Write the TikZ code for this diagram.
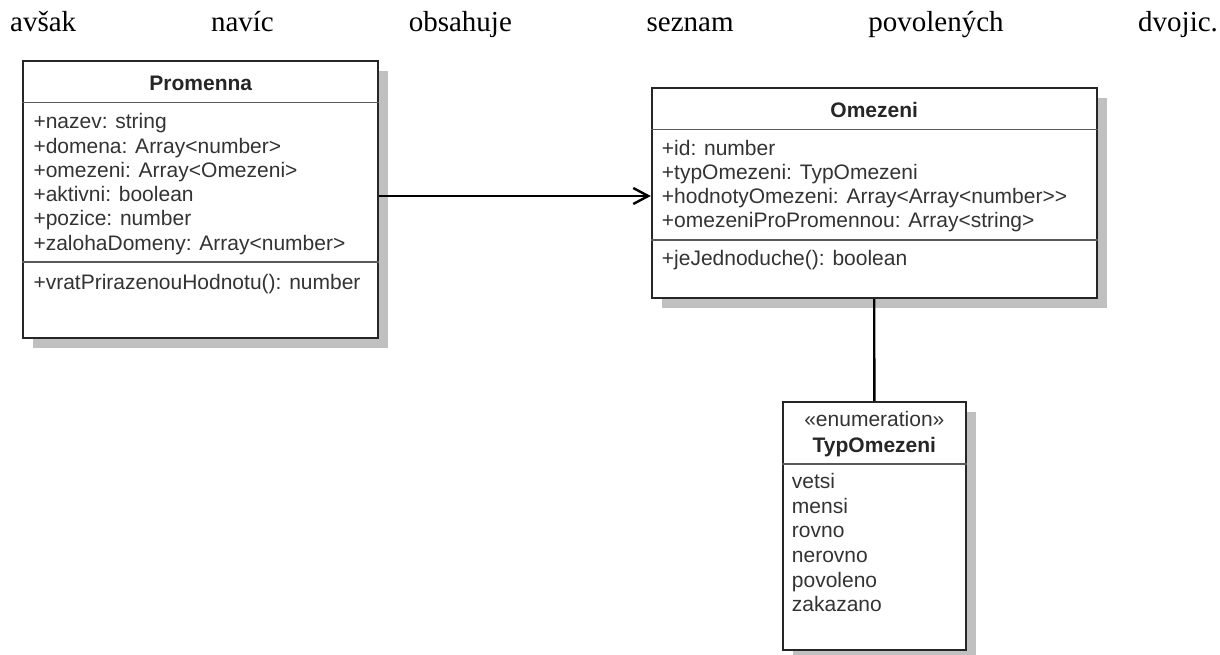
\documentclass[tikz,border=0pt]{standalone}
\usepackage{fontspec}
\setmainfont{Liberation Serif}
\newfontfamily\umlfont{Liberation Sans}
\usetikzlibrary{arrows.meta,shadows}
\definecolor{umltext}{HTML}{333333}
\definecolor{umlshadow}{HTML}{C0C0C0}
\begin{document}
\begin{tikzpicture}[x=1pt,y=-1pt,
  classbox/.style={draw=black!85, line width=1.8pt, fill=white, inner sep=0pt,
    drop shadow={shadow xshift=10pt, shadow yshift=-10pt, fill=umlshadow, opacity=1}},
  member/.style={anchor=base west, inner sep=0pt, font=\umlfont\fontsize{21}{24}\selectfont, text=umltext},
  classtitle/.style={anchor=base, inner sep=0pt, font=\umlfont\bfseries\fontsize{21}{24}\selectfont, text=black!85},
  divider/.style={draw=black!65, line width=1.5pt},
  prose/.style={anchor=base west, inner sep=0pt, font=\fontsize{29}{34}\selectfont},
  assoc/.style={draw=black, line width=2.4pt, -{Straight Barb[length=15pt,width=16pt]}},
  link/.style={draw=black, line width=2.4pt}
]
\useasboundingbox (0,0) rectangle (1220,655);

% justified line of text above the diagram
\node[prose] (w1) at (10,32) {avšak};
\node[prose] (w2) at (210.8,32) {navíc};
\node[prose] (w3) at (408.6,32) {obsahuje};
\node[prose] (w4) at (646.4,32) {seznam};
\node[prose] (w5) at (868.2,32) {povolených};
\node[prose] (w6) at (1138,32) {dvojic.};

% class boxes
\node[classbox, minimum width=355pt, minimum height=276.7pt] (prom) at (200.8,199.35) {};
\node[classbox, minimum width=445pt, minimum height=210pt] (omez) at (874.2,193.3) {};
\node[classbox, minimum width=183.3pt, minimum height=248.3pt] (typ) at (874.35,525.85) {};

% Promenna
\node[classtitle] (promT) at (prom.center |- 0,91) {Promenna};
\draw[divider] (prom.west |- 0,102.7) -- (prom.east |- 0,102.7);
\draw[divider] (prom.west |- 0,262) -- (prom.east |- 0,262);
\node[member] (p1) at (33.3,129) {+nazev: string};
\node[member] (p2) at (33.3,153.2) {+domena: Array<number>};
\node[member] (p3) at (33.3,177.4) {+omezeni: Array<Omezeni>};
\node[member] (p4) at (33.3,201.6) {+aktivni: boolean};
\node[member] (p5) at (33.3,225.8) {+pozice: number};
\node[member] (p6) at (33.3,250) {+zalohaDomeny: Array<number>};
\node[member] (p7) at (33.3,289) {+vratPrirazenouHodnotu(): number};

% Omezeni
\node[classtitle] (omezT) at (omez.center |- 0,117.5) {Omezeni};
\draw[divider] (omez.west |- 0,129.3) -- (omez.east |- 0,129.3);
\draw[divider] (omez.west |- 0,240) -- (omez.east |- 0,240);
\node[member] (o1) at (661.7,155.3) {+id: number};
\node[member] (o2) at (661.7,179.3) {+typOmezeni: TypOmezeni};
\node[member] (o3) at (661.7,203.3) {+hodnotyOmezeni: Array<Array<number>{}>};
\node[member] (o4) at (661.7,227.3) {+omezeniProPromennou: Array<string>};
\node[member] (o5) at (661.7,265.3) {+jeJednoduche(): boolean};

% TypOmezeni
\node[classtitle, font=\umlfont\fontsize{21}{24}\selectfont, text=umltext] (typS) at (typ.center |- 0,426) {«enumeration»};
\node[classtitle] (typT) at (typ.center |- 0,452.5) {TypOmezeni};
\draw[divider] (typ.west |- 0,464) -- (typ.east |- 0,464);
\node[member] (t1) at (791.7,488.7) {vetsi};
\node[member] (t2) at (791.7,513.3) {mensi};
\node[member] (t3) at (791.7,537.9) {rovno};
\node[member] (t4) at (791.7,562.5) {nerovno};
\node[member] (t5) at (791.7,587.1) {povoleno};
\node[member] (t6) at (791.7,611.7) {zakazano};

% connectors
\coordinate (linkrow) at (0,196);
\draw[assoc] (prom.east |- linkrow) -- (omez.west |- linkrow);
\draw[link] (omez.south) -- (typ.north);
\end{tikzpicture}
\end{document}
